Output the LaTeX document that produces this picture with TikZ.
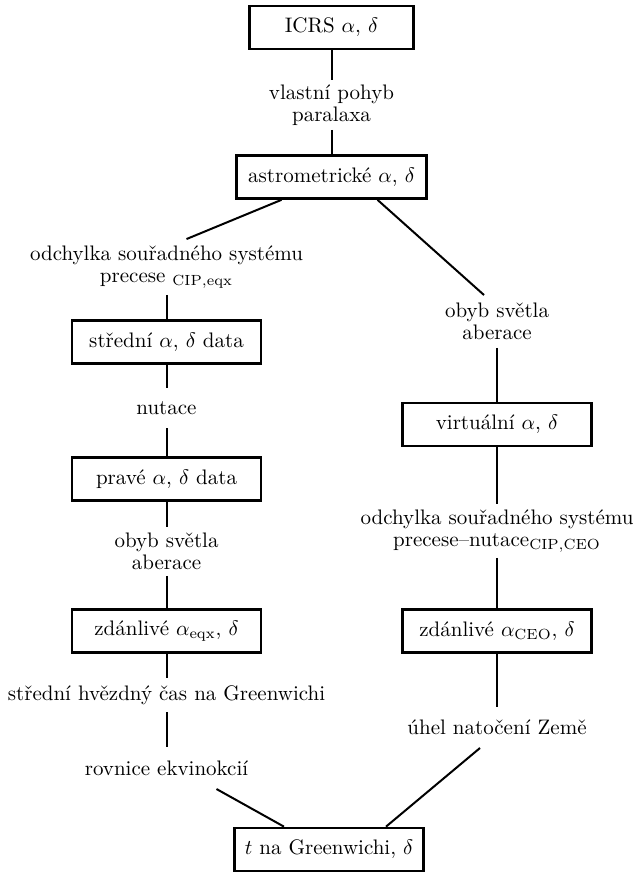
\documentclass[tikz,border=0pt]{standalone}
\usepackage{fontspec}
\usetikzlibrary{calc}
\begin{document}
\begin{tikzpicture}[x=0.476pt,y=-0.476pt,
  box/.style={draw,line width=1.25pt,minimum width=90pt,minimum height=20.5pt,inner sep=0pt},
  lab/.style={inner sep=0pt,outer sep=0pt,align=center,font=\fontsize{10}{10.6}\selectfont},
  conn/.style={line width=0.95pt}]
\useasboundingbox (0,0) rectangle (633,873);
% boxes
\node[box,minimum width=78pt] (icrs) at (331.5,27.5) {ICRS $\alpha$, $\delta$};
\node[box,minimum width=90.5pt] (astro) at (331.5,177) {astrometrické $\alpha$, $\delta$};
\node[box] (stredni) at (166.5,342) {střední $\alpha$, $\delta$ data};
\node[box] (prave) at (166.5,479) {pravé $\alpha$, $\delta$ data};
\node[box] (zdeqx) at (166.5,631) {zdánlivé $\alpha_{\mathrm{eqx}}$, $\delta$};
\node[box] (virt) at (497,424.5) {virtuální $\alpha$, $\delta$};
\node[box] (zdceo) at (497,631) {zdánlivé $\alpha_{\mathrm{CEO}}$, $\delta$};
\node[box] (tgr) at (329,849.5) {$t$ na Greenwichi, $\delta$};
% labels
\node[lab,minimum height=23.8pt] (l1) at (331.5,105) {vlastní pohyb\\paralaxa};
\node[lab,minimum height=26.6pt] (l2) at (166.5,267) {odchylka souřadného systému\\precese $_{\mathrm{CIP,eqx}}$};
\node[lab,minimum height=16.2pt] (l3) at (166.5,408) {nutace};
\node[lab,minimum height=23.3pt] (l4) at (166.5,551.5) {obyb světla\\aberace};
\node[lab,minimum height=16.2pt] (l5) at (166.5,695) {střední hvězdný čas na Greenwichi};
\node[lab,minimum height=20pt] (l6) at (166.5,768) {rovnice ekvinokcií};
\node[lab,minimum height=25.2pt] (r1) at (497,321.5) {obyb světla\\aberace};
\node[lab,minimum height=25.7pt] (r2) at (497,531) {odchylka souřadného systému\\precese--nutace$_{\mathrm{CIP,CEO}}$};
\node[lab,minimum height=19.5pt] (r3) at (497,727.5) {úhel natočení Země};
% connectors
\draw[conn] (icrs.south) -- (l1.north);
\draw[conn] (l1.south) -- (astro.north);
\draw[conn] ($(astro.south)+(-50,0)$) -- ($(l2.north)+(20,0)$);
\draw[conn] (l2.south) -- (stredni.north);
\draw[conn] (stredni.south) -- ($(l3.north)+(0,-3)$);
\draw[conn] ($(l3.south)+(0,3)$) -- (prave.north);
\draw[conn] (prave.south) -- (l4.north);
\draw[conn] (l4.south) -- (zdeqx.north);
\draw[conn] (zdeqx.south) -- (l5.north);
\draw[conn] (l5.south) -- (l6.north);
\draw[conn] ($(l6.south)+(50,0)$) -- ($(tgr.north)+(-45,0)$);
\draw[conn] ($(astro.south)+(46,0)$) -- ($(r1.north)+(-13,0)$);
\draw[conn] (r1.south) -- (virt.north);
\draw[conn] (virt.south) -- (r2.north);
\draw[conn] (r2.south) -- (zdceo.north);
\draw[conn] (zdceo.south) -- (r3.north);
\draw[conn] ($(r3.south)+(-17,0)$) -- ($(tgr.north)+(57,0)$);
\end{tikzpicture}
\end{document}
